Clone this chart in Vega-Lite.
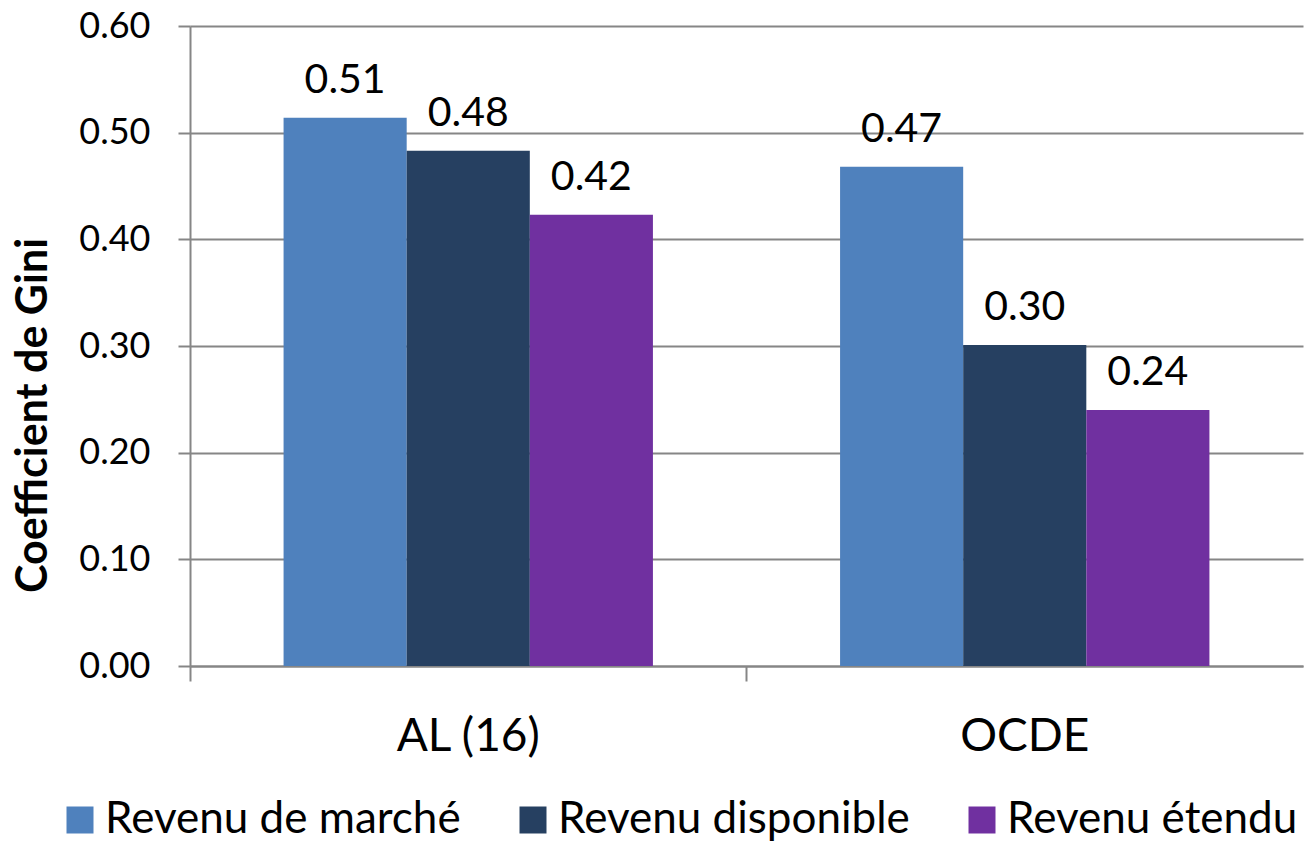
{
  "$schema": "https://vega.github.io/schema/vega-lite/v6.json",
  "width": 1113,
  "height": 640,
  "autosize": {"type": "none"},
  "padding": {"left": 190, "top": 26, "right": 3, "bottom": 178},
  "background": "white",
  "config": {"font": "Lato", "view": {"stroke": null}},
  "data": {
    "values": [
      {"region": "AL (16)", "type": "Revenu de marché", "gini": 0.514},
      {"region": "AL (16)", "type": "Revenu disponible", "gini": 0.483},
      {"region": "AL (16)", "type": "Revenu étendu", "gini": 0.423},
      {"region": "OCDE", "type": "Revenu de marché", "gini": 0.468},
      {"region": "OCDE", "type": "Revenu disponible", "gini": 0.301},
      {"region": "OCDE", "type": "Revenu étendu", "gini": 0.240}
    ]
  },
  "encoding": {
    "x": {
      "field": "region",
      "type": "nominal",
      "sort": ["AL (16)", "OCDE"],
      "scale": {"paddingInner": 0, "paddingOuter": 0},
      "axis": {
        "title": null,
        "labelAngle": 0,
        "labelFontSize": 46,
        "labelColor": "black",
        "labelPadding": 33,
        "tickSize": 15,
        "bandPosition": 0,
        "tickColor": "#868686",
        "tickWidth": 2,
        "domainColor": "#868686",
        "domainWidth": 2,
        "grid": false
      }
    },
    "xOffset": {
      "field": "type",
      "type": "nominal",
      "sort": ["Revenu de marché", "Revenu disponible", "Revenu étendu"],
      "scale": {"paddingInner": 0, "paddingOuter": 0.76}
    },
    "y": {
      "field": "gini",
      "type": "quantitative",
      "scale": {"domain": [0, 0.6], "nice": false},
      "axis": {
        "values": [0, 0.1, 0.2, 0.3, 0.4, 0.5, 0.6],
        "format": ".2f",
        "title": "Coefficient de Gini",
        "titleFont": "Lato",
        "titleFontWeight": "bold",
        "titleFontSize": 43,
        "titleColor": "black",
        "titleX": -157,
        "titleY": 389,
        "titleAngle": -90,
        "titleAlign": "center",
        "titleBaseline": "middle",
        "labelFontSize": 36,
        "labelColor": "black",
        "labelPadding": 28,
        "tickSize": 12,
        "tickColor": "#868686",
        "tickWidth": 2,
        "domainColor": "#868686",
        "domainWidth": 2,
        "grid": true,
        "gridColor": "#868686",
        "gridWidth": 2
      }
    }
  },
  "layer": [
    {
      "mark": {"type": "bar"},
      "encoding": {
        "color": {
          "field": "type",
          "type": "nominal",
          "sort": ["Revenu de marché", "Revenu disponible", "Revenu étendu"],
          "scale": {
            "domain": ["Revenu de marché", "Revenu disponible", "Revenu étendu"],
            "range": ["#4F81BD", "#264061", "#7030A0"]
          },
          "legend": {
            "title": null,
            "orient": "none",
            "direction": "horizontal",
            "legendX": -132,
            "legendY": 772,
            "symbolType": "square",
            "symbolSize": 729,
            "symbolStrokeWidth": 0,
            "symbolOpacity": 1,
            "labelFontSize": 44,
            "labelColor": "black",
            "labelOffset": 3,
            "columnPadding": 50,
            "labelLimit": 1000
          }
        }
      }
    },
    {
      "mark": {"type": "text", "baseline": "alphabetic", "dy": -25, "fontSize": 41, "color": "black"},
      "encoding": {
        "text": {"field": "gini", "type": "quantitative", "format": ".2f"}
      }
    }
  ]
}
